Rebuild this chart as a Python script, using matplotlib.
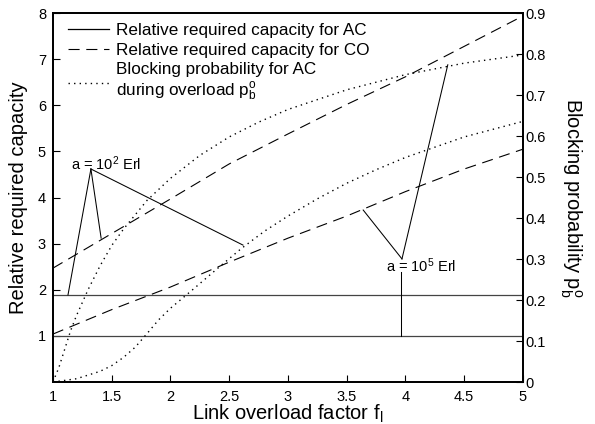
import matplotlib
matplotlib.use("Agg")
import matplotlib.pyplot as plt
from matplotlib.lines import Line2D

plt.rcParams['font.family'] = ['Liberation Sans', 'DejaVu Sans']
plt.rcParams['mathtext.fontset'] = 'custom'
plt.rcParams['mathtext.rm'] = 'Liberation Sans'
plt.rcParams['mathtext.it'] = 'Liberation Sans'

# ---- data ----
f_co = [1.0, 1.5, 2.0, 2.5, 3.0, 3.5, 4.0, 4.5, 5.0]
co_a2 = [2.47, 3.22, 3.97, 4.73, 5.38, 6.02, 6.62, 7.28, 7.94]
co_a5 = [1.04, 1.57, 2.06, 2.60, 3.12, 3.60, 4.13, 4.62, 5.05]

ac_a2 = 1.89
ac_a5 = 1.0

f_pb5 = [1.0, 1.05, 1.1, 1.15, 1.2, 1.3, 1.4, 1.5, 1.6, 1.8, 2.0, 2.25, 2.5,
         2.75, 3.0, 3.5, 4.0, 4.5, 5.0]
pb_a5 = [0.0, 0.035, 0.08, 0.125, 0.162, 0.226, 0.283, 0.333, 0.373, 0.443,
         0.497, 0.553, 0.598, 0.634, 0.665, 0.713, 0.750, 0.778, 0.798]

f_pb2 = [1.0, 1.2, 1.4, 1.5, 1.6, 1.7, 1.8, 1.9, 2.0, 2.2, 2.4, 2.6, 2.8, 3.0,
         3.25, 3.5, 3.75, 4.0, 4.5, 5.0]
pb_a2 = [0.0, 0.008, 0.026, 0.040, 0.060, 0.085, 0.118, 0.152, 0.180, 0.228,
         0.277, 0.325, 0.368, 0.405, 0.447, 0.485, 0.518, 0.548, 0.598, 0.636]

left_ticks = [1, 2, 3, 4, 5, 6, 7, 8]
right_ticks = [0, 0.1, 0.2, 0.3, 0.4, 0.5, 0.6, 0.7, 0.8, 0.9]
x_ticks = [1, 1.5, 2, 2.5, 3, 3.5, 4, 4.5, 5]

# ---- figure ----
fig = plt.figure(figsize=(5.95, 4.24), dpi=100)
ax = fig.add_axes([0.089, 0.099, 0.790, 0.870])
ax2 = ax.twinx()

dash = (0, (10, 6))
dot = (0, (1, 3))

ax.axhline(ac_a2, color='#444444', lw=0.9)
ax.axhline(ac_a5, color='#444444', lw=0.9)
ax.plot(f_co, co_a2, color='black', lw=0.8, linestyle=dash)
ax.plot(f_co, co_a5, color='black', lw=0.8, linestyle=dash)

ax2.plot(f_pb5, pb_a5, color='black', lw=1.0, linestyle=dot)
ax2.plot(f_pb2, pb_a2, color='black', lw=1.0, linestyle=dot)

ax.set_xlim(1, 5)
ax.set_ylim(0, 8)
ax2.set_ylim(0, 0.9)
ax.set_xticks(x_ticks)
ax.set_xticklabels(['1', '1.5', '2', '2.5', '3', '3.5', '4', '4.5', '5'])
ax.set_yticks(left_ticks)
ax2.set_yticks(right_ticks)
ax2.set_yticklabels(['0', '0.1', '0.2', '0.3', '0.4', '0.5', '0.6', '0.7', '0.8', '0.9'])

for a in (ax, ax2):
    a.tick_params(direction='in', length=5, width=0.8, labelsize=10.5)
    for s in a.spines.values():
        s.set_linewidth(1.3)
ax.tick_params(axis='x', pad=6)
ax.tick_params(axis='y', pad=5)
ax2.tick_params(axis='y', pad=2)

ax.set_xlabel('Link overload factor f$_\\mathregular{l}$', fontsize=14.5, labelpad=-1)
ax.set_ylabel('Relative required capacity', fontsize=14.5, labelpad=7)
ax2.set_ylabel('Blocking probability p$_\\mathregular{b}^\\mathregular{o}$',
               fontsize=14.5, rotation=270, labelpad=27)

# annotations
ann_kw = dict(color='black', lw=0.75)
ax.plot([1.323, 1.128], [4.62, 1.89], **ann_kw)
ax.plot([1.323, 1.41], [4.62, 3.12], **ann_kw)
ax.plot([1.323, 2.617], [4.62, 2.97], **ann_kw)
ax.text(1.45, 4.74, 'a = 10$^\\mathregular{2}$ Erl', fontsize=10.5, ha='center', va='center')

ax.plot([3.97, 4.36], [2.67, 6.88], **ann_kw)
ax.plot([3.97, 3.64], [2.67, 3.73], **ann_kw)
ax.plot([3.96, 3.96], [2.39, 1.0], **ann_kw)
ax.text(4.13, 2.52, 'a = 10$^\\mathregular{5}$ Erl', fontsize=10.5, ha='center', va='center')

handles = [Line2D([], [], color='black', lw=0.9),
           Line2D([], [], color='black', lw=0.8, linestyle=dash),
           Line2D([], [], color='black', lw=1.0, linestyle=dot)]
labels = ['Relative required capacity for AC',
          'Relative required capacity for CO',
          'Blocking probability for AC\nduring overload p$_\\mathregular{b}^\\mathregular{o}$']
leg = ax2.legend(handles, labels, loc='upper left', frameon=False, fontsize=12.3,
                 handlelength=2.4, handletextpad=0.4, labelspacing=0.25,
                 borderpad=0, borderaxespad=0,
                 bbox_to_anchor=(0.032, 0.972))
for t in leg.get_texts():
    t.set_linespacing(1.25)

fig.savefig('out.png', dpi=100)
